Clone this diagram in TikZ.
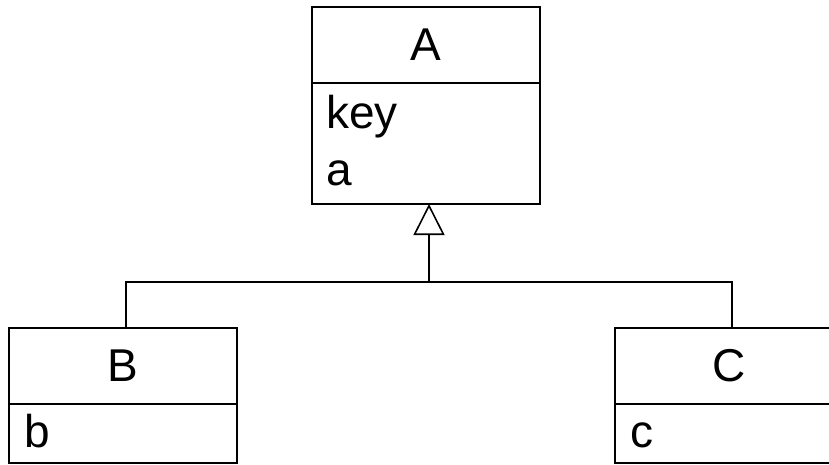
\documentclass[tikz,border=0pt]{standalone}
\usepackage{fontspec}
\setmainfont{Liberation Sans}
\usetikzlibrary{arrows.meta,positioning}
\tikzset{
  classname/.style={draw,line width=1.6pt,outer sep=0pt,inner sep=0pt,minimum width=228pt,minimum height=76pt,anchor=north west,font=\fontsize{46}{54}\selectfont},
  classattr/.style={draw,line width=1.6pt,outer sep=0pt,inner sep=0pt,minimum width=228pt},
  attrtext/.style={anchor=base west,inner sep=0pt,font=\fontsize{46}{54}\selectfont},
  inherit/.style={line width=1.6pt},
}
\begin{document}
\begin{tikzpicture}[x=1pt,y=-1pt]
\useasboundingbox (0,0) rectangle (829,464);
% superclass
\node[classname] (A) at (312,7) {A};
\node[classattr,minimum height=121pt,below=0pt of A] (Aattr) {};
\node[attrtext] (Akey) at (326,128) {key};
\node[attrtext] (Aa) at (326,185) {a};
% subclasses
\node[classname] (B) at (9,328) {B};
\node[classattr,minimum height=59pt,below=0pt of B] (Battr) {};
\node[attrtext] (Bb) at (24,447) {b};
\node[classname] (C) at (615,328) {C};
\node[classattr,minimum height=59pt,below=0pt of C] (Cattr) {};
\node[attrtext] (Cc) at (630,447) {c};
% generalization
\coordinate (fork) at (429,282);
\draw[inherit] ([xshift=3pt]B.north) |- (fork) -| ([xshift=3pt]C.north);
\draw[inherit,-{Triangle[open,length=31pt,width=31pt]}] (fork) -- ([xshift=3pt]Aattr.south);
\end{tikzpicture}
\end{document}
